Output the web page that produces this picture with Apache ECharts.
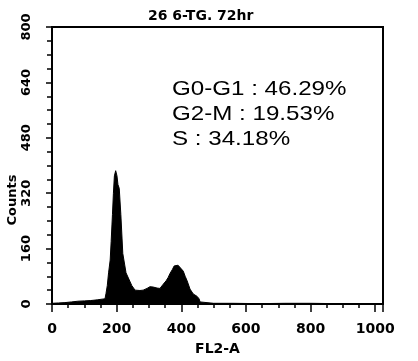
<!DOCTYPE html>
<html>
<head>
<meta charset="utf-8">
<script src="https://cdn.jsdelivr.net/npm/echarts@6/dist/echarts.min.js"></script>
<style>
  html, body { margin: 0; padding: 0; background: #fff; }
  #chart { width: 418px; height: 361px; }
</style>
</head>
<body>
<div id="chart"></div>
<script>
// histogram: FL2-A channel -> counts
const channels = [0, 20, 40, 60, 80, 100, 120, 140, 155, 164, 167, 171, 175, 180, 183, 187, 190, 193, 197, 201,
  204, 208, 213, 219, 229, 247, 257, 272, 282, 294, 303, 313, 325, 334, 344, 353, 359, 365, 372, 378,
  384, 390, 396, 406, 412, 418, 427, 437, 449, 455, 458, 464, 500, 560, 640, 720, 800, 880, 960, 1023];
const counts = [2, 3, 4, 6, 8, 9, 10, 12, 14, 15, 30, 53, 90, 127, 180, 258, 320, 370, 385, 370,
  345, 334, 258, 146, 90, 53, 40, 39, 40, 45, 50, 49, 46, 45, 57, 67, 76, 88, 99, 110,
  113, 112, 108, 95, 80, 67, 43, 29, 22, 15, 6, 3, 2, 2, 1, 2, 2, 1, 1, 1];

// cell cycle phases
const phaseNames = ['G0-G1', 'G2-M', 'S'];
const phasePct = ['46.29', '19.53', '34.18'];

const titleText = '26 6-TG. 72hr';

const boldFont = 'DejaVu Sans';

let chart = echarts.init(document.getElementById('chart'));

let phaseTexts = phaseNames.map(function (n, i) {
  return {
    type: 'text',
    x: 172,
    y: 89 + i * 25,
    scaleX: 1.15,
    style: {
      text: n + ' : ' + phasePct[i] + '%',
      font: '21px "Liberation Sans"',
      fill: '#000',
      verticalAlign: 'middle'
    }
  };
});

chart.setOption({
  animation: false,
  title: {
    text: titleText,
    left: 143,
    top: 4,
    textStyle: { fontFamily: boldFont, fontWeight: 'bold', fontSize: 14, color: '#000' }
  },
  grid: {
    left: 52, right: 35, top: 27, bottom: 49,
    show: true, borderColor: '#000', borderWidth: 2
  },
  xAxis: {
    type: 'value',
    min: 0, max: 1024, interval: 200,
    name: 'FL2-A',
    nameLocation: 'middle',
    nameGap: 38,
    nameTextStyle: { fontFamily: boldFont, fontWeight: 'bold', fontSize: 14, color: '#000' },
    axisLine: { lineStyle: { color: '#000', width: 2 } },
    axisTick: { length: 8, lineStyle: { color: '#000', width: 1.5 } },
    minorTick: { show: true, splitNumber: 4, length: 4, lineStyle: { color: '#000', width: 1.5 } },
    splitLine: { show: false },
    axisLabel: {
      showMaxLabel: false, margin: 18,
      formatter: function (v) { return String(v); },
      fontFamily: boldFont, fontWeight: 'bold', fontSize: 14, color: '#000'
    }
  },
  yAxis: {
    type: 'value',
    min: 0, max: 800, interval: 160,
    axisLine: { show: true, lineStyle: { color: '#000', width: 2 } },
    axisTick: { show: true, length: 6, lineStyle: { color: '#000', width: 1.5 } },
    minorTick: { show: true, splitNumber: 4, length: 5, lineStyle: { color: '#000', width: 1.5 } },
    splitLine: { show: false },
    axisLabel: {
      rotate: 90, margin: 19,
      fontFamily: boldFont, fontWeight: 'bold', fontSize: 13, color: '#000'
    }
  },
  graphic: [
    {
      type: 'text',
      x: 13, y: 200,
      rotation: Math.PI / 2,
      style: {
        text: 'Counts',
        font: 'bold 13px "DejaVu Sans"',
        fill: '#000',
        align: 'center',
        verticalAlign: 'middle'
      }
    }
  ].concat(phaseTexts),
  series: [{
    type: 'line',
    data: channels.map(function (c, i) { return [c, counts[i]]; }),
    showSymbol: false,
    lineStyle: { color: '#000', width: 1 },
    areaStyle: { color: '#000', opacity: 1 }
  }]
});
</script>
</body>
</html>
